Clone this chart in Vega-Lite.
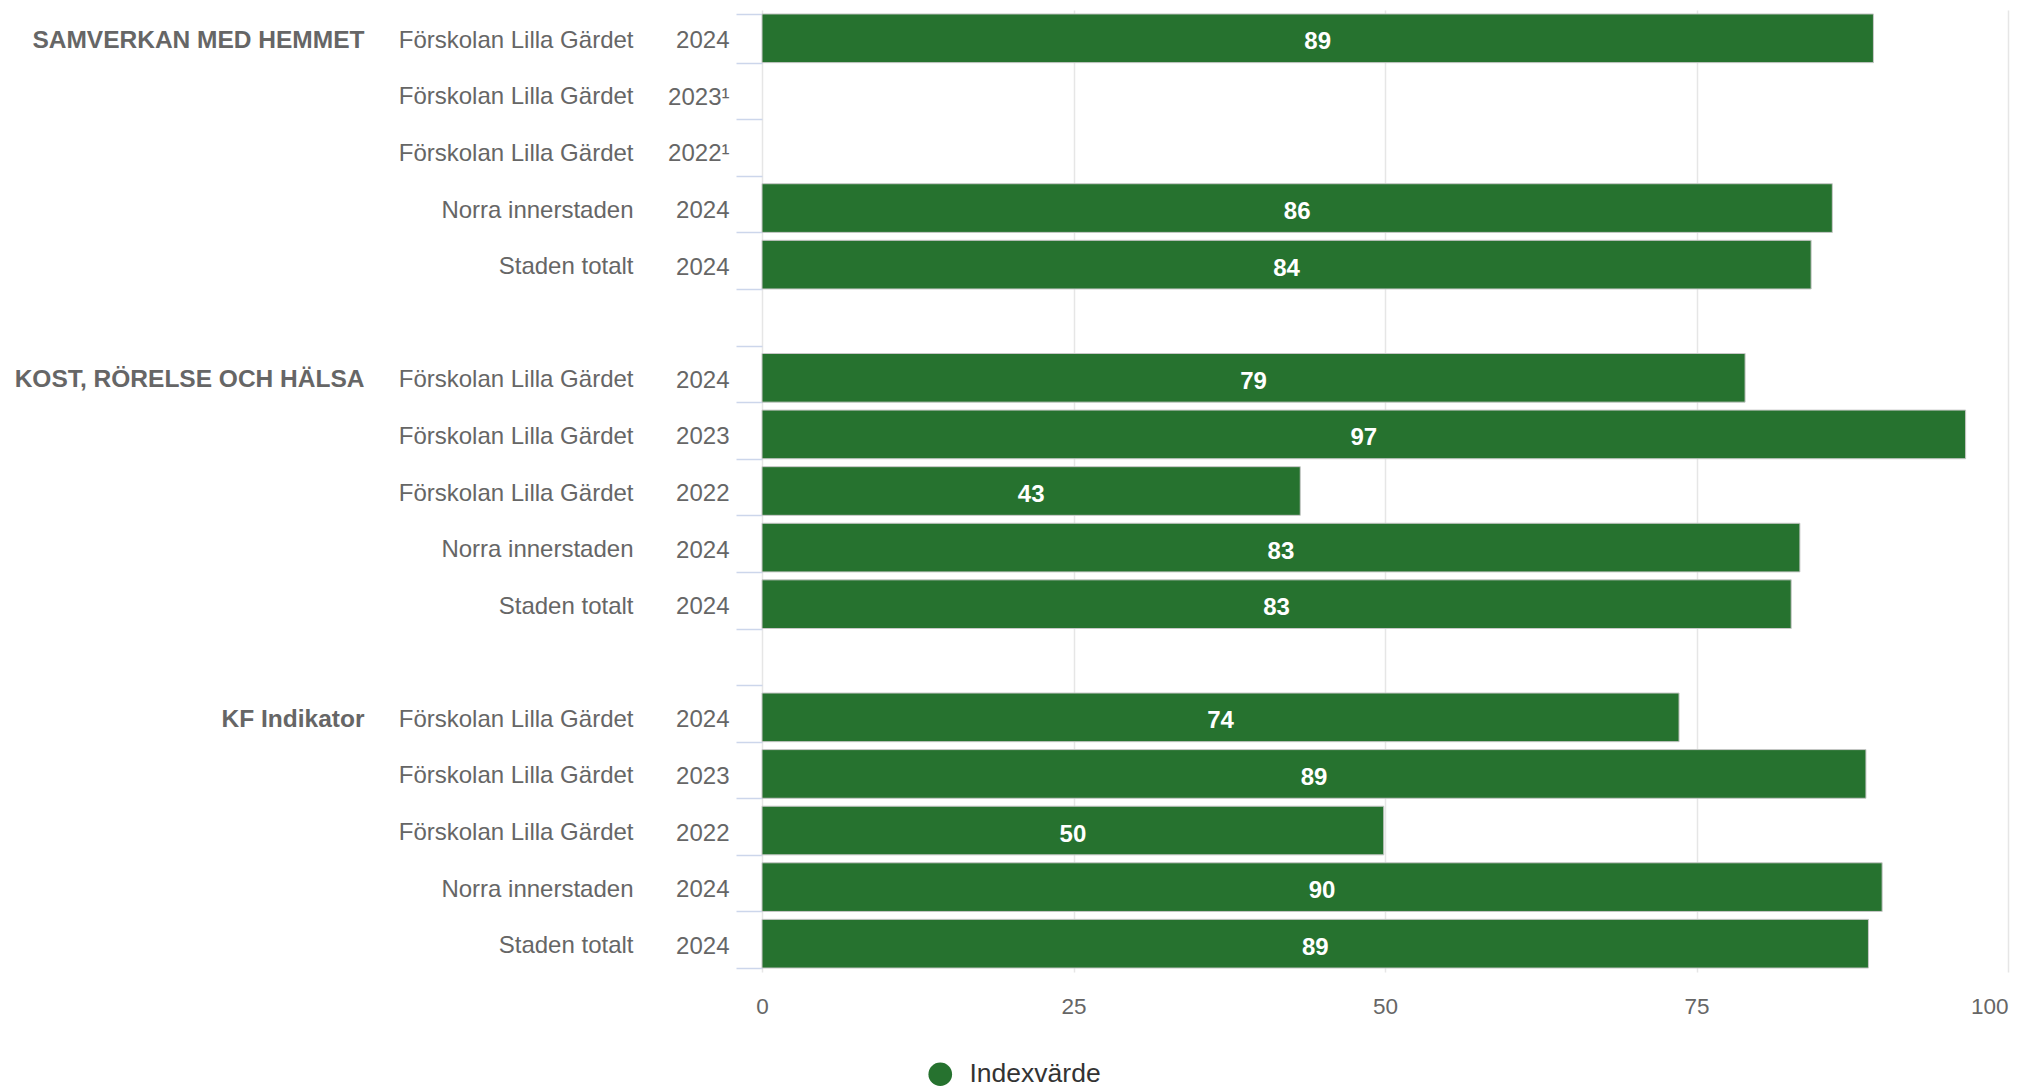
{
  "$schema": "https://vega.github.io/schema/vega-lite/v6.json",
  "autosize": {"type": "none"},
  "padding": {"left": 762, "top": 10, "right": 10, "bottom": 115},
  "width": 1246,
  "height": 962,
  "background": "#ffffff",
  "config": {"font": "Liberation Sans", "view": {"stroke": null}},
  "data": {
    "values": [
      {"key": "SAMVERKAN MED HEMMET|Förskolan Lilla Gärdet|2024|a1", "group": "SAMVERKAN MED HEMMET", "unit": "Förskolan Lilla Gärdet", "year": "2024", "value": 89.2},
      {"key": "|Förskolan Lilla Gärdet|2023¹|a2", "group": "SAMVERKAN MED HEMMET", "unit": "Förskolan Lilla Gärdet", "year": "2023¹", "value": null},
      {"key": "|Förskolan Lilla Gärdet|2022¹|a3", "group": "SAMVERKAN MED HEMMET", "unit": "Förskolan Lilla Gärdet", "year": "2022¹", "value": null},
      {"key": "|Norra innerstaden|2024|a4", "group": "SAMVERKAN MED HEMMET", "unit": "Norra innerstaden", "year": "2024", "value": 85.9},
      {"key": "|Staden totalt|2024|a5", "group": "SAMVERKAN MED HEMMET", "unit": "Staden totalt", "year": "2024", "value": 84.2},
      {"key": "KOST, RÖRELSE OCH HÄLSA|Förskolan Lilla Gärdet|2024|b1", "group": "KOST, RÖRELSE OCH HÄLSA", "unit": "Förskolan Lilla Gärdet", "year": "2024", "value": 78.9},
      {"key": "|Förskolan Lilla Gärdet|2023|b2", "group": "KOST, RÖRELSE OCH HÄLSA", "unit": "Förskolan Lilla Gärdet", "year": "2023", "value": 96.6},
      {"key": "|Förskolan Lilla Gärdet|2022|b3", "group": "KOST, RÖRELSE OCH HÄLSA", "unit": "Förskolan Lilla Gärdet", "year": "2022", "value": 43.2},
      {"key": "|Norra innerstaden|2024|b4", "group": "KOST, RÖRELSE OCH HÄLSA", "unit": "Norra innerstaden", "year": "2024", "value": 83.3},
      {"key": "|Staden totalt|2024|b5", "group": "KOST, RÖRELSE OCH HÄLSA", "unit": "Staden totalt", "year": "2024", "value": 82.6},
      {"key": "KF Indikator|Förskolan Lilla Gärdet|2024|c1", "group": "KF Indikator", "unit": "Förskolan Lilla Gärdet", "year": "2024", "value": 73.6},
      {"key": "|Förskolan Lilla Gärdet|2023|c2", "group": "KF Indikator", "unit": "Förskolan Lilla Gärdet", "year": "2023", "value": 88.6},
      {"key": "|Förskolan Lilla Gärdet|2022|c3", "group": "KF Indikator", "unit": "Förskolan Lilla Gärdet", "year": "2022", "value": 49.9},
      {"key": "|Norra innerstaden|2024|c4", "group": "KF Indikator", "unit": "Norra innerstaden", "year": "2024", "value": 89.9},
      {"key": "|Staden totalt|2024|c5", "group": "KF Indikator", "unit": "Staden totalt", "year": "2024", "value": 88.8}
    ]
  },
  "resolve": {"axis": {"y": "independent"}, "scale": {"x": "independent"}},
  "layer": [
    {
      "mark": {"type": "bar", "stroke": "#c8c8c8", "strokeWidth": 1, "invalid": "filter"},
      "encoding": {
        "y": {
          "field": "key",
          "type": "nominal",
          "sort": null,
          "scale": {
            "domain": [
              "SAMVERKAN MED HEMMET|Förskolan Lilla Gärdet|2024|a1",
              "|Förskolan Lilla Gärdet|2023¹|a2",
              "|Förskolan Lilla Gärdet|2022¹|a3",
              "|Norra innerstaden|2024|a4",
              "|Staden totalt|2024|a5",
              "|||s1",
              "KOST, RÖRELSE OCH HÄLSA|Förskolan Lilla Gärdet|2024|b1",
              "|Förskolan Lilla Gärdet|2023|b2",
              "|Förskolan Lilla Gärdet|2022|b3",
              "|Norra innerstaden|2024|b4",
              "|Staden totalt|2024|b5",
              "|||s2",
              "KF Indikator|Förskolan Lilla Gärdet|2024|c1",
              "|Förskolan Lilla Gärdet|2023|c2",
              "|Förskolan Lilla Gärdet|2022|c3",
              "|Norra innerstaden|2024|c4",
              "|Staden totalt|2024|c5"
            ],
            "paddingInner": 0.14,
            "paddingOuter": 0.07
          },
          "axis": {
            "orient": "left",
            "title": null,
            "labelExpr": "split(datum.value, '|')[2]",
            "domain": false,
            "grid": false,
            "ticks": true,
            "tickBand": "extent",
            "tickColor": "#ccd6eb",
            "tickWidth": 1.5,
            "tickSize": 26,
            "labelPadding": 7,
            "labelOffset": 2.5,
            "labelFontSize": 24,
            "labelColor": "#666666",
            "labelOverlap": false,
            "labelLimit": 500
          }
        },
        "x": {
          "field": "value",
          "type": "quantitative",
          "scale": {"domain": [0, 100], "nice": false},
          "axis": {
            "title": null,
            "values": [0, 25, 50, 75, 100],
            "grid": true,
            "gridColor": "#e6e6e6",
            "gridWidth": 1.5,
            "domain": false,
            "ticks": false,
            "labelPadding": 23,
            "labelFontSize": 22.5,
            "labelColor": "#666666",
            "labelAlign": {"condition": {"test": "datum.value === 100", "value": "right"}, "value": "center"}
          }
        },
        "color": {
          "datum": "Indexvärde",
          "type": "nominal",
          "scale": {"range": ["#26722f"]},
          "legend": {
            "orient": "none",
            "legendX": 165,
            "legendY": 1051,
            "title": null,
            "symbolType": "circle",
            "symbolSize": 560,
            "symbolStrokeWidth": 0,
            "labelFontSize": 26.5,
            "labelColor": "#333333",
            "labelOffset": 16,
            "padding": 0
          }
        }
      }
    },
    {
      "mark": {"type": "text", "color": "#ffffff", "fontWeight": "bold", "fontSize": 24, "baseline": "middle", "align": "center", "dy": 4, "invalid": "filter"},
      "encoding": {
        "y": {
          "field": "key",
          "type": "nominal",
          "sort": null,
          "axis": {
            "orient": "left",
            "title": null,
            "labelExpr": "split(datum.value, '|')[1]",
            "domain": false,
            "grid": false,
            "ticks": false,
            "labelPadding": 129,
            "labelOffset": 2.5,
            "labelFontSize": 24,
            "labelColor": "#666666",
            "labelOverlap": false,
            "labelLimit": 500
          }
        },
        "x": {
          "field": "value",
          "type": "quantitative",
          "scale": {"domain": [0, 200], "nice": false},
          "axis": null
        },
        "text": {"field": "value", "type": "quantitative", "format": ".0f"}
      }
    },
    {
      "mark": {"type": "text", "opacity": 0},
      "encoding": {
        "y": {
          "field": "key",
          "type": "nominal",
          "sort": null,
          "axis": {
            "orient": "left",
            "title": null,
            "labelExpr": "split(datum.value, '|')[0]",
            "domain": false,
            "grid": false,
            "ticks": false,
            "labelPadding": 398,
            "labelOffset": 2.5,
            "labelFontSize": 24.5,
            "labelFontWeight": "bold",
            "labelColor": "#666666",
            "labelOverlap": false,
            "labelLimit": 500
          }
        },
        "text": {"value": ""}
      }
    }
  ]
}
